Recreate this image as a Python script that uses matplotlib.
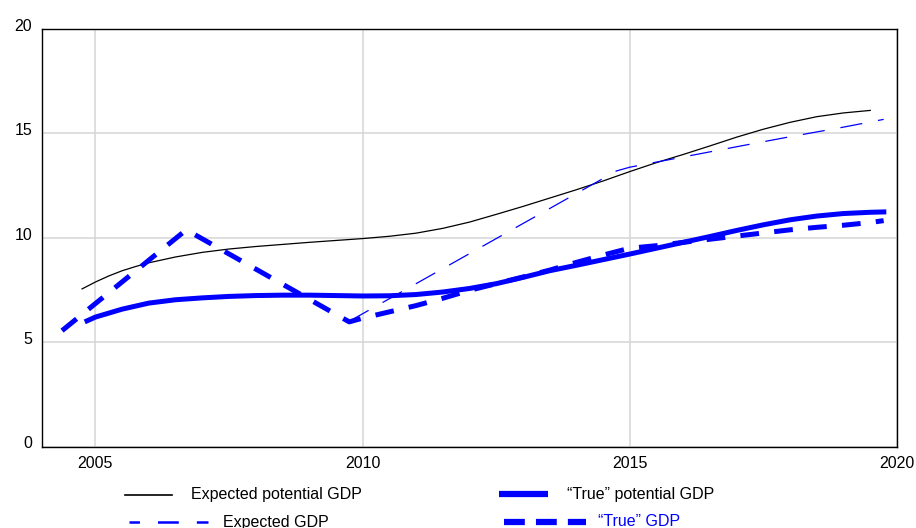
import matplotlib
matplotlib.use("Agg")
import matplotlib.pyplot as plt
import matplotlib.transforms as mtransforms
from matplotlib.lines import Line2D

plt.rcParams['font.family'] = ['Liberation Sans', 'DejaVu Sans']
plt.rcParams['font.size'] = 11.5
plt.rcParams['lines.scale_dashes'] = False

BLUE = '#0000ff'

#  ======================= data ===========================
exp_pot_x = [2004.75, 2005.0, 2005.25, 2005.5, 2005.75, 2006.0, 2006.5, 2007.0, 2007.5, 2008.0,
             2008.5, 2009.0, 2009.5, 2010.0, 2010.5, 2011.0, 2011.5, 2012.0, 2012.5, 2013.0,
             2013.5, 2014.0, 2014.5, 2015.0, 2015.5, 2016.0, 2016.5, 2017.0, 2017.5, 2018.0,
             2018.5, 2019.0, 2019.5]
exp_pot_y = [7.55, 7.88, 8.17, 8.42, 8.62, 8.8, 9.08, 9.3, 9.46, 9.58,
             9.68, 9.78, 9.87, 9.96, 10.07, 10.22, 10.45, 10.75, 11.12, 11.5,
             11.9, 12.3, 12.72, 13.17, 13.6, 13.99, 14.4, 14.82, 15.2, 15.53,
             15.8, 15.98, 16.1]

exp_gdp_x = [2009.75, 2014.75, 2015.0, 2016.0, 2017.0, 2018.0, 2019.0, 2019.75]
exp_gdp_y = [6.0, 13.2, 13.38, 13.87, 14.36, 14.84, 15.3, 15.67]

true_pot_x = [2004.8, 2005.0, 2005.5, 2006.0, 2006.5, 2007.0, 2007.5, 2008.0, 2008.5, 2009.0,
              2009.5, 2010.0, 2010.5, 2011.0, 2011.5, 2012.0, 2012.5, 2013.0, 2013.5, 2014.0,
              2014.5, 2015.0, 2015.5, 2016.0, 2016.5, 2017.0, 2017.5, 2018.0, 2018.5, 2019.0,
              2019.5, 2019.8]
true_pot_y = [5.97, 6.2, 6.58, 6.87, 7.03, 7.12, 7.19, 7.23, 7.25, 7.25,
              7.23, 7.21, 7.22, 7.28, 7.4, 7.57, 7.8, 8.1, 8.42, 8.68,
              8.95, 9.22, 9.5, 9.78, 10.06, 10.35, 10.62, 10.86, 11.04, 11.16,
              11.22, 11.24]

true_gdp_x = [2004.375, 2006.7, 2009.75, 2010.0, 2010.5, 2011.0, 2011.5, 2012.0, 2012.5, 2013.0,
              2013.5, 2014.0, 2014.5, 2015.0, 2015.5, 2016.0, 2016.5, 2017.0, 2017.5, 2018.0,
              2018.5, 2019.0, 2019.5, 2019.75]
true_gdp_y = [5.55, 10.38, 5.97, 6.15, 6.45, 6.75, 7.1, 7.48, 7.8, 8.12,
              8.45, 8.82, 9.17, 9.5, 9.62, 9.78, 9.93, 10.08, 10.23, 10.38,
              10.5, 10.6, 10.73, 10.82]

x_ticks = [2005, 2010, 2015, 2020]
y_ticks = [0, 5, 10, 15, 20]

#  ======================= plot ===========================
W, H = 916, 528
fig = plt.figure(figsize=(W / 100, H / 100), dpi=100)
ax = fig.add_axes([42 / W, 1 - 446.5 / H, (897 - 42) / W, (446.5 - 29) / H])

thin_dash = (0, (16, 11.5))
thick_dash = (0, (13.5, 11))

ax.plot(exp_pot_x, exp_pot_y, color='black', lw=0.9, zorder=3)
ax.plot(exp_gdp_x, exp_gdp_y, color=BLUE, lw=0.9, linestyle=thin_dash, zorder=3)
ax.plot(true_pot_x, true_pot_y, color=BLUE, lw=3.6, solid_capstyle='butt', zorder=4)
ax.plot(true_gdp_x, true_gdp_y, color=BLUE, lw=3.6, linestyle=thick_dash,
        dash_capstyle='butt', zorder=4)

ax.set_xlim(2004, 2020)
ax.set_ylim(0, 20)
ax.set_xticks(x_ticks)
ax.set_yticks(y_ticks)
ax.tick_params(length=0, pad=7, labelsize=11.5)
ax.grid(True, color='#d6d6d6', lw=1.1, zorder=0)
for s in ax.spines.values():
    s.set_linewidth(1.0)
    s.set_color('black')

# y labels sit a little above their gridlines
off = mtransforms.ScaledTranslation(0, 3 / 72, fig.dpi_scale_trans)
for lab in ax.get_yticklabels():
    lab.set_transform(lab.get_transform() + off)

#  ======================= legend (drawn by hand) ===========================
def px(x, y):
    return x / W, 1 - y / H

def leg_entry(x0, x1, y, tx, label, tcolor='black', **kw):
    (a, b), (c, _) = px(x0, y), px(x1, y)
    fig.add_artist(Line2D([a, c], [b, b], transform=fig.transFigure, **kw))
    fig.text(*px(tx, y), label, color=tcolor, va='center', ha='left', fontsize=11.5)

leg_entry(125, 171.5, 495, 191, 'Expected potential GDP', color='black', lw=1.2)
leg_entry(128.6, 208, 522, 223, 'Expected GDP', color=BLUE, lw=1.8,
          linestyle=(7.5, (15, 13)))
leg_entry(498.6, 547.6, 494, 567, '\u201cTrue\u201d potential GDP', color=BLUE, lw=4.5,
          solid_capstyle='butt')
leg_entry(504, 586, 522, 598, '\u201cTrue\u201d GDP', tcolor=BLUE, color=BLUE, lw=4.5,
          linestyle=(0, (15, 8)), dash_capstyle='butt')

fig.savefig('out.png', dpi=100)
